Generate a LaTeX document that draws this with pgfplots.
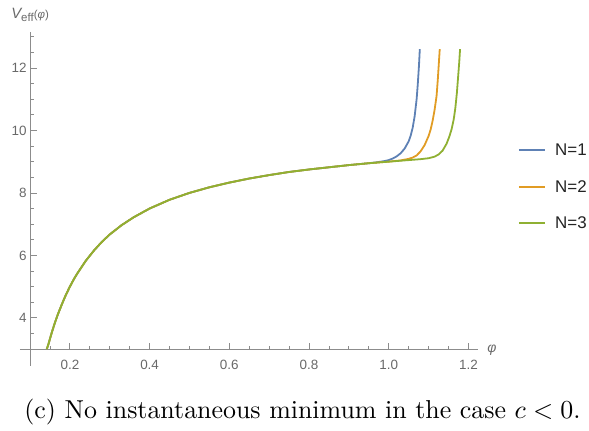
\documentclass[border=0pt]{standalone}
\usepackage{pgfplots}
\pgfplotsset{compat=1.18}
\usepackage{graphicx}
\usepackage{fontspec}
\newfontfamily\sansf{Liberation Sans}
\definecolor{mblue}{rgb}{0.368,0.507,0.710}
\definecolor{morange}{rgb}{0.881,0.611,0.142}
\definecolor{mgreen}{rgb}{0.560,0.692,0.195}
\definecolor{axgray}{RGB}{140,140,140}
\definecolor{lblgray}{RGB}{105,105,105}
\definecolor{legtext}{RGB}{35,35,35}
\begin{document}
\begin{tikzpicture}
\path[use as bounding box] (0,0) rectangle (589bp,431bp);
\begin{axis}[
  at={(20bp,65bp)}, anchor=south west,
  scale only axis, width=458bp, height=334bp,
  xmin=0.0748, xmax=1.224, ymin=2.46, ymax=13.15,
  axis x line=bottom, axis y line=left,
  axis x line shift=-16.9bp, axis y line shift=-10.04bp,
  x axis line style={-, draw=axgray, line width=0.8bp},
  y axis line style={-, draw=axgray, line width=0.8bp},
  tick style={draw=axgray, line width=0.8bp},
  tick align=inside,
  major tick length=6.5bp, minor tick length=3.5bp,
  xtick={0.2,0.4,0.6,0.8,1.0,1.2},
  xticklabels={0.2,0.4,0.6,0.8,1.0,1.2},
  minor xtick={0.1,0.15,0.25,0.3,0.35,0.45,0.5,0.55,0.65,0.7,0.75,0.85,0.9,0.95,1.05,1.1,1.15},
  ytick={4,6,8,10,12},
  yticklabels={4,6,8,10,12},
  minor ytick={3.5,4.5,5,5.5,6.5,7,7.5,8.5,9,9.5,10.5,11,11.5,12.5,13},
  tick label style={font=\fontsize{13.5}{15}\sansf, text=lblgray},
  xticklabel style={yshift=-7bp},
  clip=false,
]
\addplot[mblue, line width=1.8bp] coordinates {
(0.142,3.0)(0.146,3.15)(0.15,3.33)(0.155,3.55)(0.16,3.75)(0.165,3.94)(0.17,4.12)(0.18,4.44)(0.19,4.74)(0.2,5.0)(0.21,5.24)(0.22,5.45)(0.24,5.83)(0.26,6.15)(0.28,6.43)(0.3,6.67)(0.33,6.97)(0.36,7.22)(0.4,7.5)(0.45,7.78)(0.5,8.0)(0.55,8.18)(0.6,8.33)(0.65,8.46)(0.7,8.57)(0.75,8.67)(0.8,8.75)(0.85,8.82)(0.9,8.89)(0.95,8.95)
(0.97,8.98)(0.99,9.02)(1.0,9.05)(1.01,9.1)(1.02,9.17)(1.03,9.27)(1.04,9.42)(1.05,9.65)(1.055,9.83)(1.06,10.08)(1.065,10.45)(1.07,11.0)(1.073,11.5)(1.076,12.1)(1.078,12.6)
};
\addplot[morange, line width=1.8bp] coordinates {
(0.142,3.0)(0.146,3.15)(0.15,3.33)(0.155,3.55)(0.16,3.75)(0.165,3.94)(0.17,4.12)(0.18,4.44)(0.19,4.74)(0.2,5.0)(0.21,5.24)(0.22,5.45)(0.24,5.83)(0.26,6.15)(0.28,6.43)(0.3,6.67)(0.33,6.97)(0.36,7.22)(0.4,7.5)(0.45,7.78)(0.5,8.0)(0.55,8.18)(0.6,8.33)(0.65,8.46)(0.7,8.57)(0.75,8.67)(0.8,8.75)(0.85,8.82)(0.9,8.89)(0.95,8.95)
(0.97,8.97)(1.0,9.0)(1.03,9.04)(1.05,9.09)(1.06,9.13)(1.07,9.2)(1.08,9.33)(1.09,9.53)(1.1,9.82)(1.105,10.02)(1.11,10.3)(1.115,10.65)(1.12,11.1)(1.123,11.6)(1.126,12.2)(1.128,12.6)
};
\addplot[mgreen, line width=1.8bp] coordinates {
(0.142,3.0)(0.146,3.15)(0.15,3.33)(0.155,3.55)(0.16,3.75)(0.165,3.94)(0.17,4.12)(0.18,4.44)(0.19,4.74)(0.2,5.0)(0.21,5.24)(0.22,5.45)(0.24,5.83)(0.26,6.15)(0.28,6.43)(0.3,6.67)(0.33,6.97)(0.36,7.22)(0.4,7.5)(0.45,7.78)(0.5,8.0)(0.55,8.18)(0.6,8.33)(0.65,8.46)(0.7,8.57)(0.75,8.67)(0.8,8.75)(0.85,8.82)(0.9,8.89)(0.95,8.95)
(1.0,9.0)(1.05,9.05)(1.08,9.08)(1.1,9.11)(1.115,9.16)(1.125,9.23)(1.135,9.35)(1.145,9.57)(1.152,9.8)(1.158,10.05)(1.163,10.35)(1.167,10.7)(1.171,11.2)(1.174,11.7)(1.177,12.2)(1.179,12.6)
};
% legend
\draw[mblue, line width=1.8bp] (axis description cs:1.0895,0.6467) -- (axis description cs:1.1463,0.6467);
\node[anchor=west, inner sep=0pt, text=legtext, font=\fontsize{17}{19}\sansf] at (axis description cs:1.1681,0.6467) {N=1};
\draw[morange, line width=1.8bp] (axis description cs:1.0895,0.5359) -- (axis description cs:1.1463,0.5359);
\node[anchor=west, inner sep=0pt, text=legtext, font=\fontsize{17}{19}\sansf] at (axis description cs:1.1681,0.5359) {N=2};
\draw[mgreen, line width=1.8bp] (axis description cs:1.0895,0.4281) -- (axis description cs:1.1463,0.4281);
\node[anchor=west, inner sep=0pt, text=legtext, font=\fontsize{17}{19}\sansf] at (axis description cs:1.1681,0.4281) {N=3};
\node[anchor=center, text=lblgray, inner sep=0pt] at (axis description cs:0.022,1.05)
  {\fontsize{15}{17}\sansf\itshape V\raisebox{-0.35ex}{\fontsize{11.5}{13}\selectfont\upshape eff}\fontsize{11.5}{13}\selectfont\upshape(\itshape φ\upshape)};
\node[anchor=center, text=lblgray, inner sep=0pt] at (axis description cs:1.0306,0.048)
  {\fontsize{14}{16}\sansf\itshape φ};
\end{axis}
\node[anchor=center] at (302.5bp,18.5bp) {\scalebox{2.6}{(c) No instantaneous minimum in the case $c < 0$.}};
\end{tikzpicture}
\end{document}
